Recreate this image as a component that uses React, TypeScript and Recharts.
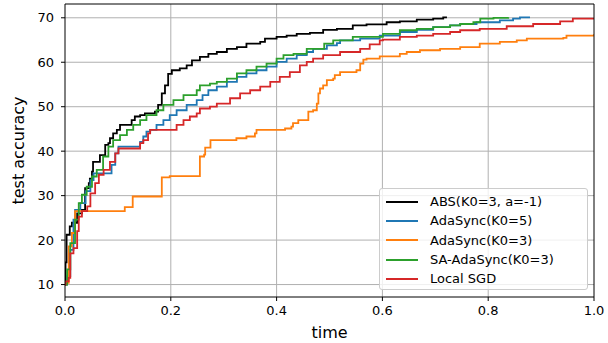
import React from 'react';
import { LineChart, Line, XAxis, YAxis, Legend, Label, ReferenceLine } from 'recharts';

const xTicks = [0, 0.2, 0.4, 0.6, 0.8, 1.0];
const yTicks = [10, 20, 30, 40, 50, 60, 70];

const absTime = [0, 0.001, 0.003, 0.009, 0.013, 0.023, 0.032, 0.038, 0.045, 0.047, 0.051, 0.053, 0.066, 0.076, 0.082, 0.085, 0.091, 0.098, 0.104, 0.126, 0.132, 0.142, 0.151, 0.17, 0.176, 0.183, 0.189, 0.195, 0.202, 0.217, 0.23, 0.24, 0.255, 0.271, 0.287, 0.306, 0.325, 0.343, 0.369, 0.378, 0.4, 0.419, 0.438, 0.463, 0.488, 0.514, 0.544, 0.57, 0.608, 0.633, 0.665, 0.696, 0.715, 0.722];
const absAcc = [10, 15, 21.2, 23.1, 23.9, 26, 26.8, 31.7, 32.8, 33.8, 35.4, 37.6, 39.1, 41.4, 41.8, 42.9, 44, 44.8, 45.9, 47, 47.8, 48.1, 48.5, 48.9, 50.4, 53, 54.8, 57.4, 58.2, 58.6, 59.3, 60.4, 61.2, 61.9, 62.3, 63, 63.4, 64.2, 64.6, 65.3, 65.7, 66, 66.4, 66.6, 67.3, 67.5, 68.3, 68.5, 69, 69.2, 69.6, 69.8, 70.1, 70.1];

const ada5Time = [0, 0.004, 0.01, 0.016, 0.019, 0.029, 0.039, 0.048, 0.054, 0.088, 0.095, 0.101, 0.142, 0.148, 0.154, 0.161, 0.173, 0.186, 0.198, 0.211, 0.23, 0.249, 0.26, 0.271, 0.287, 0.306, 0.325, 0.343, 0.362, 0.381, 0.4, 0.419, 0.438, 0.457, 0.469, 0.495, 0.514, 0.52, 0.558, 0.595, 0.633, 0.665, 0.696, 0.728, 0.747, 0.778, 0.822, 0.847, 0.86, 0.879];
const ada5Acc = [10, 11.9, 17.8, 24.6, 26.8, 28.3, 31, 33.5, 35, 36.9, 39.5, 41, 42.1, 43.3, 44.4, 44.8, 45.9, 47, 48.1, 49.2, 50.4, 51.5, 52.6, 53.7, 54.5, 55.6, 56.7, 57.5, 58.2, 59, 60.1, 60.8, 61.6, 62.3, 63, 63.8, 64.3, 64.9, 65.3, 66, 66.8, 67.3, 67.9, 68.3, 68.6, 69, 69.4, 69.8, 70.1, 70.1];

const ada3Time = [0, 0.001, 0.007, 0.013, 0.019, 0.113, 0.128, 0.183, 0.198, 0.255, 0.263, 0.265, 0.275, 0.324, 0.343, 0.359, 0.362, 0.416, 0.428, 0.431, 0.441, 0.46, 0.469, 0.476, 0.479, 0.482, 0.488, 0.495, 0.507, 0.51, 0.52, 0.551, 0.558, 0.564, 0.57, 0.595, 0.633, 0.646, 0.671, 0.709, 0.747, 0.784, 0.822, 0.854, 0.873, 0.942, 0.948, 1.0];
const ada3Acc = [10, 10.4, 18.6, 21.6, 26.5, 27.4, 29.8, 34.1, 34.4, 38.8, 39.2, 40.8, 42.5, 42.9, 43.3, 44, 44.8, 45.1, 45.5, 46.3, 47, 48.9, 49.2, 50.7, 53, 54.1, 54.8, 56, 56.3, 57.1, 57.8, 58.2, 59.7, 60.6, 60.8, 61.3, 61.9, 62.3, 62.7, 63, 63.4, 64.2, 64.6, 64.9, 65.3, 65.5, 66, 66.3];

const saTime = [0, 0.004, 0.01, 0.019, 0.026, 0.032, 0.041, 0.051, 0.06, 0.072, 0.082, 0.091, 0.104, 0.117, 0.129, 0.142, 0.154, 0.173, 0.186, 0.205, 0.224, 0.249, 0.255, 0.274, 0.287, 0.306, 0.325, 0.343, 0.362, 0.381, 0.4, 0.413, 0.432, 0.457, 0.49, 0.507, 0.544, 0.601, 0.633, 0.665, 0.696, 0.728, 0.747, 0.772, 0.785, 0.81, 0.838];
const saAcc = [10, 13.4, 19.3, 24.6, 28.3, 30.2, 32, 34.3, 35.8, 38.8, 41, 42.5, 43.6, 44.8, 45.9, 47, 48.1, 49.2, 50.4, 51.5, 52.6, 53.7, 54.8, 55.2, 55.6, 56.3, 57.5, 58.2, 59, 59.7, 60.8, 61.6, 61.9, 63, 64.2, 64.9, 65.7, 66.4, 67.2, 67.5, 67.9, 68.3, 68.6, 69, 69.8, 70, 70.1];

const sgdTime = [0, 0.001, 0.007, 0.01, 0.016, 0.023, 0.026, 0.032, 0.042, 0.048, 0.057, 0.064, 0.073, 0.085, 0.095, 0.101, 0.142, 0.148, 0.157, 0.161, 0.211, 0.224, 0.236, 0.249, 0.255, 0.274, 0.287, 0.312, 0.331, 0.35, 0.369, 0.388, 0.406, 0.425, 0.444, 0.457, 0.469, 0.488, 0.52, 0.558, 0.576, 0.595, 0.601, 0.633, 0.665, 0.696, 0.728, 0.747, 0.784, 0.835, 0.885, 0.936, 0.96, 1.0];
const sgdAcc = [10, 10.7, 11.5, 17, 18.2, 22, 25.3, 26.5, 27.6, 30.5, 32.8, 34.7, 35.8, 37.6, 39.5, 40.6, 41.8, 42.5, 44, 44.8, 45.9, 47, 47.8, 48.5, 49.6, 50, 50.7, 51.9, 53, 53.7, 54.5, 55.6, 56.7, 57.8, 59.3, 60.1, 60.8, 61.6, 62.3, 63, 64, 64.9, 65.1, 65.7, 66, 66.4, 66.8, 67.2, 67.5, 68.1, 68.6, 69.2, 69.8, 69.8];

const seriesNames = ['ABS(K0=3, a=-1)', 'AdaSync(K0=5)', 'AdaSync(K0=3)', 'SA-AdaSync(K0=3)', 'Local SGD'];
const seriesColors = ['#000000', '#1f77b4', '#ff7f0e', '#2ca02c', '#d62728'];

const yDomain: [number, number] = [7.2, 73.1];
const xDomain: [number, number] = [0, 1];

const build = (t: number[], a: number[]) => t.map((x, i) => ({ x, y: a[i] }));
const seriesData = [
  build(absTime, absAcc),
  build(ada5Time, ada5Acc),
  build(ada3Time, ada3Acc),
  build(saTime, saAcc),
  build(sgdTime, sgdAcc),
];

// Grid lines built from the tick arrays, drawn as plain line series through the axes' scales.
const hGrid = yTicks.map((v) => [
  { x: xDomain[0], y: v },
  { x: xDomain[1], y: v },
]);
const vGrid = xTicks.slice(1, -1).map((v) => [
  { x: v, y: yDomain[0] },
  { x: v, y: yDomain[1] },
]);

const FONT = 'DejaVu Sans';
const GRID = '#b0b0b0';

const renderLegend = () => (
  <div
    style={{
      width: 209,
      height: 102,
      boxSizing: 'border-box',
      border: '1px solid #cccccc',
      borderRadius: 3,
      background: 'rgba(255,255,255,0.8)',
      fontFamily: FONT,
      fontSize: 13,
      color: '#000',
      padding: '3px 0 0 0',
    }}
  >
    {seriesNames.map((n, i) => (
      <div key={n} style={{ display: 'flex', alignItems: 'center', height: 19.3, lineHeight: '19.3px' }}>
        <svg width={50} height={10} style={{ flex: 'none' }}>
          <line x1={6} x2={38} y1={5} y2={5} stroke={seriesColors[i]} strokeWidth={2} />
        </svg>
        <span style={{ whiteSpace: 'nowrap' }}>{n}</span>
      </div>
    ))}
  </div>
);

export default function App() {
  return (
    <div style={{ position: 'fixed', left: 0, top: 0, width: 608, height: 343, background: '#fff' }}>
      <LineChart width={608} height={343} margin={{ top: 4, right: 14, bottom: 0, left: 0 }}>
        <XAxis
          type="number"
          dataKey="x"
          domain={xDomain}
          ticks={xTicks}
          tickFormatter={(v: number) => v.toFixed(1)}
          height={46}
          stroke="#000"
          tickSize={4}
          tickMargin={5}
          tick={{ fill: '#000', fontSize: 13, fontFamily: FONT }}
          allowDataOverflow
        >
          <Label value="time" position="insideBottom" offset={5} style={{ fill: '#000', fontSize: 16, fontFamily: FONT }} />
        </XAxis>
        <YAxis
          type="number"
          domain={yDomain}
          ticks={yTicks}
          width={65}
          stroke="#000"
          tickSize={4}
          tickMargin={7}
          tick={{ fill: '#000', fontSize: 13, fontFamily: FONT }}
          allowDataOverflow
        >
          <Label
            value="test accuracy"
            angle={-90}
            position="insideLeft"
            offset={18}
            style={{ fill: '#000', fontSize: 16, fontFamily: FONT, textAnchor: 'middle' }}
          />
        </YAxis>
        {hGrid.map((d, i) => (
          <Line
            key={'hg' + i}
            data={d}
            dataKey="y"
            type="linear"
            stroke={GRID}
            strokeWidth={1}
            dot={false}
            activeDot={false}
            legendType="none"
            isAnimationActive={false}
          />
        ))}
        {vGrid.map((d, i) => (
          <Line
            key={'vg' + i}
            data={d}
            dataKey="y"
            type="linear"
            stroke={GRID}
            strokeWidth={1}
            dot={false}
            activeDot={false}
            legendType="none"
            isAnimationActive={false}
          />
        ))}
        {seriesData.map((d, i) => (
          <Line
            key={seriesNames[i]}
            data={d}
            dataKey="y"
            name={seriesNames[i]}
            type="stepAfter"
            stroke={seriesColors[i]}
            strokeWidth={1.8}
            dot={false}
            activeDot={false}
            isAnimationActive={false}
          />
        ))}
        <ReferenceLine y={yDomain[1]} stroke="#000" strokeWidth={1} ifOverflow="visible" />
        <ReferenceLine x={xDomain[1]} stroke="#000" strokeWidth={1} ifOverflow="visible" />
        <Legend
          layout="horizontal"
          verticalAlign="middle"
          align="center"
          content={renderLegend}
          wrapperStyle={{ position: 'absolute', left: 379, top: 188, width: 209, height: 102 }}
        />
      </LineChart>
    </div>
  );
}
